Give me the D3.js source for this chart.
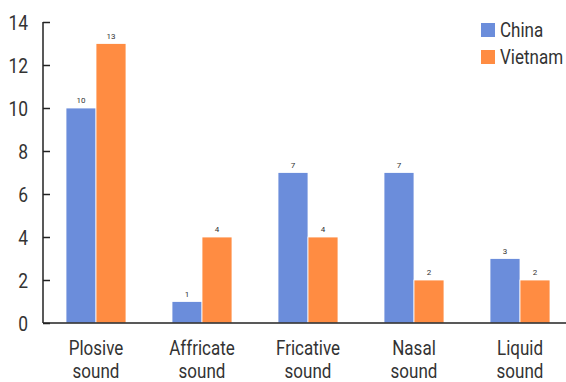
<!DOCTYPE html>
<html>
<head>
<meta charset="utf-8">
<script src="https://cdn.jsdelivr.net/npm/d3@7"></script>
<style>
  body { margin: 0; background: #fff; }
  text { font-family: "Roboto", sans-serif; fill: #333; }
</style>
</head>
<body>
<div id="chart"></div>
<script>
// data
var categories = [["Plosive", "sound"], ["Affricate", "sound"], ["Fricative", "sound"], ["Nasal", "sound"], ["Liquid", "sound"]];
var seriesNames = ["China", "Vietnam"];
var china = [10, 1, 7, 7, 3];
var vietnam = [13, 4, 4, 2, 2];
var yTicks = [0, 2, 4, 6, 8, 10, 12, 14];
var colors = ["#6B8DDB", "#FF8C42"];

var W = 566, H = 382;
var margin = {top: 22, right: -7, bottom: 59, left: 43},
    width = W - margin.left - margin.right,
    height = H - margin.top - margin.bottom;
var narrow = 0.83; // squeeze text to look like a condensed face

var svg = d3.select("#chart").append("svg")
    .attr("width", W).attr("height", H)
  .append("g")
    .attr("transform", "translate(" + margin.left + "," + margin.top + ")");

var x = d3.scaleBand().domain(d3.range(categories.length)).range([0, width]).padding(0);
var y = d3.scaleLinear().domain([0, 14]).range([height, 0]);
var barW = 30;

// y axis
var yAxis = svg.append("g")
  .call(d3.axisRight(y).tickValues(yTicks).tickSize(7).tickFormat(""));
yAxis.select(".domain").attr("stroke", "#222").attr("stroke-width", 1.5).attr("d", "M0," + height + "V0");
yAxis.selectAll(".tick line").attr("stroke", "#222").attr("stroke-width", 1.5);

svg.selectAll(".ylab").data(yTicks).enter().append("text")
  .attr("transform", function(d) { return "translate(-15," + y(d) + ") scale(" + narrow + ",1)"; })
  .attr("dy", "0.36em").attr("text-anchor", "end")
  .style("font-size", "21px")
  .text(function(d) { return d; });

// bars
var groups = svg.selectAll(".grp").data(categories).enter().append("g")
  .attr("transform", function(d, i) { return "translate(" + (x(i) + x.bandwidth() / 2) + ",0)"; });

[china, vietnam].forEach(function(vals, s) {
  groups.append("rect")
    .attr("x", function(d, i) { return s === 0 ? -barW : 0; })
    .attr("y", function(d, i) { return y(vals[i]); })
    .attr("width", barW)
    .attr("height", function(d, i) { return height - y(vals[i]); })
    .attr("fill", colors[s])
    .attr("stroke", "#fff").attr("stroke-width", 0.8);
  groups.append("text")
    .attr("x", s === 0 ? -barW / 2 : barW / 2)
    .attr("y", function(d, i) { return y(vals[i]) - 5; })
    .attr("text-anchor", "middle")
    .style("font-size", "8px")
    .text(function(d, i) { return vals[i]; });
});

// x axis baseline
svg.append("line")
  .attr("x1", 0).attr("x2", width).attr("y1", height).attr("y2", height)
  .attr("stroke", "#222").attr("stroke-width", 1.5);

// x labels
groups.each(function(d) {
  var t = d3.select(this).append("text").attr("text-anchor", "middle")
    .attr("transform", "scale(" + narrow + ",1)")
    .style("font-size", "20.5px");
  t.append("tspan").attr("x", 0).attr("y", height + 32).text(d[0]);
  t.append("tspan").attr("x", 0).attr("y", height + 55).text(d[1]);
});

// legend
var legend = svg.append("g").attr("transform", "translate(438,1)");
seriesNames.forEach(function(n, i) {
  legend.append("rect").attr("x", 0).attr("y", i * 27).attr("width", 14).attr("height", 14).attr("fill", colors[i]);
  legend.append("text")
    .attr("transform", "translate(19," + (i * 27 + 7) + ") scale(" + narrow + ",1)")
    .attr("dy", "0.36em")
    .style("font-size", "20.5px").text(n);
});
</script>
</body>
</html>
